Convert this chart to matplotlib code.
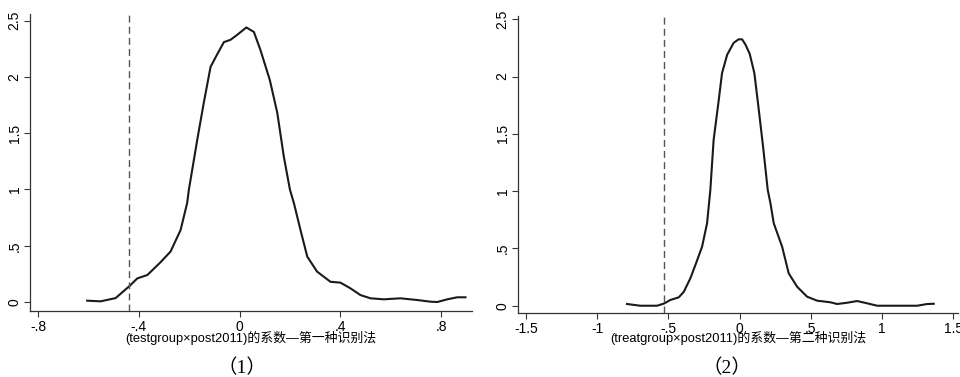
import matplotlib.pyplot as plt

plt.rcParams['font.family'] = ['Liberation Sans', 'Noto Sans CJK SC']

# panel (1): kernel density of placebo coefficients, first identification
x1 = [-0.605, -0.552, -0.492, -0.437, -0.406, -0.366, -0.314, -0.274, -0.234, -0.208,
      -0.201, -0.168, -0.142, -0.115, -0.089, -0.062, -0.036, -0.009, 0.027, 0.057,
      0.083, 0.12, 0.15, 0.176, 0.2, 0.216, 0.242, 0.269, 0.308, 0.361,
      0.401, 0.44, 0.48, 0.52, 0.573, 0.639, 0.705, 0.758, 0.785, 0.825,
      0.864, 0.897]
y1 = [0.012, 0.006, 0.035, 0.142, 0.21, 0.24, 0.353, 0.448, 0.64, 0.88,
      1.0, 1.44, 1.77, 2.09, 2.20, 2.31, 2.33, 2.375, 2.44, 2.40,
      2.24, 1.975, 1.68, 1.29, 1.0, 0.878, 0.64, 0.403, 0.27, 0.18,
      0.172, 0.122, 0.062, 0.033, 0.024, 0.033, 0.018, 0.003, 0.0, 0.024,
      0.042, 0.042]
true1 = -0.44

# panel (2): second identification
x2 = [-0.791, -0.697, -0.58, -0.529, -0.487, -0.428, -0.393, -0.346, -0.311, -0.264,
      -0.229, -0.206, -0.183, -0.147, -0.124, -0.088, -0.042, -0.007, 0.017, 0.04,
      0.07, 0.103, 0.134, 0.164, 0.197, 0.216, 0.239, 0.298, 0.344, 0.403,
      0.473, 0.544, 0.637, 0.684, 0.754, 0.824, 0.895, 0.965, 1.105, 1.246,
      1.316, 1.362]
y2 = [0.015, 0.0, 0.0, 0.02, 0.05, 0.073, 0.12, 0.24, 0.355, 0.515,
      0.72, 1.01, 1.446, 1.795, 2.03, 2.19, 2.295, 2.325, 2.325, 2.28,
      2.2, 2.03, 1.71, 1.39, 1.01, 0.894, 0.72, 0.515, 0.283, 0.166,
      0.079, 0.044, 0.03, 0.015, 0.026, 0.041, 0.021, 0.0, 0.0, 0.0,
      0.015, 0.017]
true2 = -0.533

yticks = [0, 0.5, 1, 1.5, 2, 2.5]
ytick_labels = ['0', '.5', '1', '1.5', '2', '2.5']
xticks1 = [-0.8, -0.4, 0, 0.4, 0.8]
xtick_labels1 = ['-.8', '-.4', '0', '.4', '.8']
xticks2 = [-1.5, -1, -0.5, 0, 0.5, 1, 1.5]
xtick_labels2 = ['-1.5', '-1', '-.5', '0', '.5', '1', '1.5']

xlabel1 = '(testgroup×post2011)的系数—第一种识别法'
xlabel2 = '(treatgroup×post2011)的系数—第二种识别法'
captions = ['（1）', '（2）']

fig = plt.figure(figsize=(9.6, 3.77), dpi=100)
ax1 = fig.add_axes([0.03125, 0.175, 0.4604, 0.788])
ax2 = fig.add_axes([0.5396, 0.169, 0.4584, 0.789])

panels = [
    (ax1, x1, y1, true1, xticks1, xtick_labels1, xlabel1, (-0.832, 0.923), (-0.08, 2.56), -0.091),
    (ax2, x2, y2, true2, xticks2, xtick_labels2, xlabel2, (-1.556, 1.533), (-0.066, 2.53), -0.083),
]
cap_x = [242 / 960, 727 / 960]

for i, (ax, x, y, xv, xt, xtl, xl, xlim, ylim, lab_y) in enumerate(panels):
    ax.plot(x, y, color='#1a1a1a', lw=1.5)
    ax.axvline(xv, color='#555555', lw=1.0, dashes=(5, 3))
    ax.set_xlim(*xlim)
    ax.set_ylim(*ylim)
    ax.set_xticks(xt)
    ax.set_xticklabels(xtl)
    ax.set_yticks(yticks)
    ax.set_yticklabels(ytick_labels, rotation=90, va='center')
    for s in ['top', 'right']:
        ax.spines[s].set_visible(False)
    for s in ['left', 'bottom']:
        ax.spines[s].set_color('#333333')
        ax.spines[s].set_linewidth(0.9)
    ax.tick_params(axis='both', colors='#333333', labelcolor='black', length=4,
                   width=0.8, labelsize=10)
    ax.tick_params(axis='x', pad=2.5)
    ax.tick_params(axis='y', pad=2)
    ax.set_xlabel(xl, fontsize=9.3)
    ax.xaxis.set_label_coords(0.5, lab_y)
    ax.xaxis.label.set_verticalalignment('center')
    # panel caption under each chart
    fig.text(cap_x[i], 0.023, captions[i], ha='center', va='center',
             fontsize=14, family=['Liberation Serif', 'Noto Sans CJK SC'])

fig.savefig('out.png', dpi=100)
